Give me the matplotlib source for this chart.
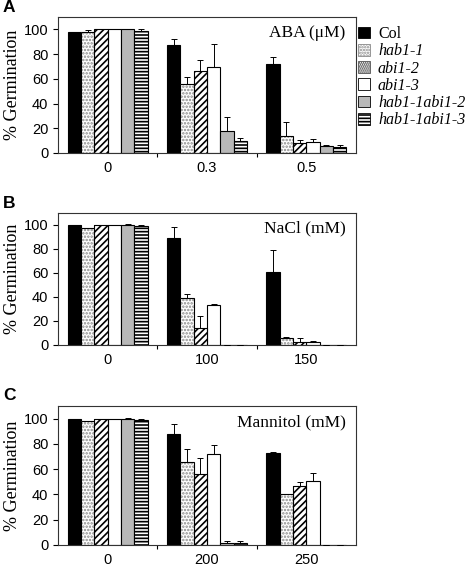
import numpy as np
import matplotlib
matplotlib.use("Agg")
import matplotlib.pyplot as plt
from matplotlib.patches import Patch

plt.rcParams['font.family'] = 'Liberation Sans'
plt.rcParams['hatch.linewidth'] = 1.2

## the data
genotypes = ['Col', 'hab1-1', 'abi1-2', 'abi1-3', 'hab1-1abi1-2', 'hab1-1abi1-3']

aba_doses = ['0', '0.3', '0.5']
aba_means = [[97.5, 87.5, 72.0],
             [98.0, 55.5, 13.8],
             [100.0, 66.5, 8.4],
             [100.0, 69.5, 8.7],
             [100.0, 17.5, 5.4],
             [98.5, 10.0, 4.9]]
aba_err = [[0.0, 4.8, 6.0],
           [1.5, 6.0, 11.0],
           [0.0, 8.5, 2.0],
           [0.0, 19.0, 2.5],
           [0.0, 11.5, 1.4],
           [1.5, 2.4, 1.9]]

nacl_doses = ['0', '100', '150']
nacl_means = [[100.0, 89.4, 60.6],
              [97.8, 39.4, 5.6],
              [100.0, 14.4, 2.8],
              [100.0, 33.3, 2.8],
              [100.0, 0.0, 0.0],
              [99.0, 0.0, 0.0]]
nacl_err = [[0.0, 8.6, 18.3],
            [0.0, 2.8, 1.4],
            [0.0, 10.0, 3.3],
            [0.0, 0.9, 0.5],
            [0.5, 0.0, 0.0],
            [1.0, 0.0, 0.0]]

mannitol_doses = ['0', '200', '250']
mannitol_means = [[100.0, 88.2, 73.2],
                  [98.2, 65.3, 40.0],
                  [100.0, 55.8, 46.8],
                  [100.0, 72.4, 50.5],
                  [100.0, 1.6, 0.0],
                  [98.7, 1.6, 0.0]]
mannitol_err = [[0.0, 7.8, 0.5],
                [0.0, 10.5, 0.0],
                [0.0, 13.4, 2.9],
                [0.0, 7.1, 6.6],
                [0.3, 1.8, 0.0],
                [1.0, 1.8, 0.0]]

## bar styles: (face, hatch, hatch colour)
styles = [('black', None, None),
          ('white', '.....', '#8a8a8a'),
          ('white', '/////', 'black'),
          ('white', None, None),
          ('#b8b8b8', None, None),
          ('white', '-----', 'black')]

fig = plt.figure(figsize=(4.73, 5.67), dpi=100)

W, H = 473.0, 567.0
panels = [('A', aba_doses, aba_means, aba_err, 'ABA (\u03bcM)', 17, 153),
          ('B', nacl_doses, nacl_means, nacl_err, 'NaCl (mM)', 213, 345),
          ('C', mannitol_doses, mannitol_means, mannitol_err, 'Mannitol (mM)', 406, 545)]

width = 0.134
ind = np.arange(3)

for letter, doses, means, errs, title, top, bottom in panels:
    ax = fig.add_axes([58 / W, 1 - bottom / H, 298 / W, (bottom - top) / H])
    for j, (face, hatch, hcol) in enumerate(styles):
        x = ind + (j - 2.5) * width
        if hatch:
            ax.bar(x, means[j], width, color=face, edgecolor=hcol, hatch=hatch,
                   linewidth=0, zorder=2)
            ax.bar(x, means[j], width, fill=False, edgecolor='black',
                   linewidth=0.8, zorder=3)
        else:
            ax.bar(x, means[j], width, color=face, edgecolor='black',
                   linewidth=0.8, zorder=2)
        ax.errorbar(x, means[j], yerr=[np.zeros(3), errs[j]], fmt='none',
                    ecolor='black', elinewidth=0.7, capsize=2.2, capthick=0.7,
                    zorder=4)

    ax.set_xlim(-0.5, 2.5)
    ax.set_ylim(0, 110)
    ax.set_yticks(range(0, 101, 20))
    ax.set_xticks(ind)
    ax.set_xticklabels(doses, fontsize=10.5)
    ax.set_xticks([0.5, 1.5], minor=True)
    ax.tick_params(axis='x', which='major', length=0, pad=6)
    ax.tick_params(axis='x', which='minor', length=3, width=0.8, direction='out')
    ax.tick_params(axis='y', labelsize=10.5, length=3.5, width=0.8, direction='out')
    for s in ax.spines.values():
        s.set_linewidth(0.8)
        s.set_color('#333333')

    ax.set_ylabel('% Germination', family='Liberation Serif', fontsize=13)
    ax.yaxis.set_label_coords(-0.125, 0.5)
    ax.text(0.965, 0.88, title, transform=ax.transAxes, ha='right',
            va='center', family='Liberation Serif', fontsize=12.5)

    fig.text(3 / W, 1 - (top - 10) / H, letter, fontsize=12.5,
             fontweight='bold', ha='left', va='center')

## legend
handles = [Patch(facecolor='black', edgecolor='black', linewidth=0.6),
           Patch(facecolor='white', edgecolor='#8a8a8a', hatch='......', linewidth=0.6),
           Patch(facecolor='white', edgecolor='#555555', hatch='........', linewidth=0.6),
           Patch(facecolor='white', edgecolor='black', linewidth=0.6),
           Patch(facecolor='#b8b8b8', edgecolor='black', linewidth=0.6),
           Patch(facecolor='white', edgecolor='black', hatch='-----', linewidth=0.6)]
leg = fig.legend(handles, genotypes, loc='upper left',
                 bbox_to_anchor=(358 / W, 1 - 26 / H), frameon=False,
                 prop={'family': 'Liberation Serif', 'size': 11.5},
                 handlelength=0.75, handleheight=0.75, handletextpad=0.5,
                 labelspacing=0.08, borderaxespad=0, borderpad=0)
for t in leg.get_texts()[1:]:
    t.set_style('italic')

fig.savefig('out.png', dpi=100)
